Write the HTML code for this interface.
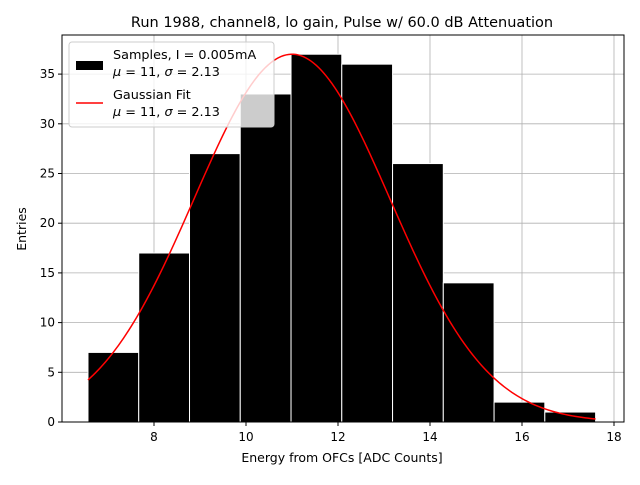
<!DOCTYPE html>
<html><head><meta charset="utf-8"><style>
body{margin:0;background:#fff;font-family:"Liberation Sans","DejaVu Sans",sans-serif}
</style></head><body>
<svg id="chart" width="640" height="480" xmlns="http://www.w3.org/2000/svg" font-family="DejaVu Sans, Liberation Sans, sans-serif">
<rect width="640" height="480" fill="#fff"/>
<text x="342" y="27" text-anchor="middle" font-size="14.5">Run 1988, channel8, lo gain, Pulse w/ 60.0 dB Attenuation</text>
<g id="grid"></g><g id="bars"></g><g id="curve"></g><g id="axes"></g>
<rect x="62" y="35" width="562" height="387" fill="none" stroke="#000" stroke-width="1"/>
<text x="342" y="462" text-anchor="middle" font-size="12.5">Energy from OFCs [ADC Counts]</text>
<text transform="translate(26,229) rotate(-90)" text-anchor="middle" font-size="12.5">Entries</text>
<g>
<rect x="69" y="42" width="205" height="85" fill="#fff" fill-opacity="0.8" stroke="#ccc" rx="3"/>
<rect x="76" y="61" width="27" height="9" fill="#000"/>
<text x="113" y="59" font-size="12.8">Samples, I = 0.005mA</text>
<text x="113" y="76" font-size="12.8"><tspan font-style="italic">μ</tspan> = 11, <tspan font-style="italic">σ</tspan> = 2.13</text>
<line x1="76" y1="103" x2="103" y2="103" stroke="red" stroke-width="1.5"/>
<text x="113" y="99" font-size="12.8">Gaussian Fit</text>
<text x="113" y="116" font-size="12.8"><tspan font-style="italic">μ</tspan> = 11, <tspan font-style="italic">σ</tspan> = 2.13</text>
</g>
</svg>
<script>
const binEdges=[6.565,7.668,8.772,9.875,10.979,12.082,13.186,14.289,15.393,16.496,17.6];
const counts=[7,17,27,33,37,36,26,14,2,1];
const xTicks=[8,10,12,14,16,18];
const yTicks=[0,5,10,15,20,25,30,35];
const fitMu=11, fitSigma=2.13, fitAmp=37;
const X=v=>62+(v-6)*46, Y=v=>422-v*9.94;
const NS="http://www.w3.org/2000/svg";
function mk(t,a,p){const e=document.createElementNS(NS,t);for(const k in a)e.setAttribute(k,a[k]);p.appendChild(e);return e;}
const grid=document.getElementById('grid'),bars=document.getElementById('bars'),axes=document.getElementById('axes'),curve=document.getElementById('curve');
xTicks.forEach(t=>{
 const g=mk('line',{x1:X(t),x2:X(t),y1:35,y2:422,stroke:'#b0b0b0','stroke-width':0.8},grid);
 
 
 mk('line',{x1:X(t),x2:X(t),y1:422,y2:426,stroke:'#000'},axes);
 const l=mk('text',{x:X(t),y:441,'text-anchor':'middle','font-size':12},axes);l.textContent=t;
 
 
});
yTicks.forEach(t=>{
 const g=mk('line',{x1:62,x2:624,y1:Y(t),y2:Y(t),stroke:'#b0b0b0','stroke-width':0.8},grid);
 
 
 mk('line',{x1:58,x2:62,y1:Y(t),y2:Y(t),stroke:'#000'},axes);
 const l=mk('text',{x:55,y:Y(t)+4,'text-anchor':'end','font-size':12},axes);l.textContent=t;
 
 
});
counts.forEach((c,i)=>{
 const x0=X(binEdges[i]),x1=X(binEdges[i+1]);
 const r=mk('rect',{x:x0,y:Y(c),width:x1-x0,height:Y(0)-Y(c),fill:'#000',stroke:'#fff','stroke-width':1},bars);
 
 
});
let d='';const a=binEdges[0],b=binEdges[binEdges.length-1];
for(let i=0;i<=200;i++){const v=a+(b-a)*i/200;const y=fitAmp*Math.exp(-((v-fitMu)**2)/(2*fitSigma*fitSigma));d+=(i?'L':'M')+X(v).toFixed(2)+','+Y(y).toFixed(2);}
const p=mk('path',{d:d,fill:'none',stroke:'red','stroke-width':1.5},curve);


</script>
</body></html>
